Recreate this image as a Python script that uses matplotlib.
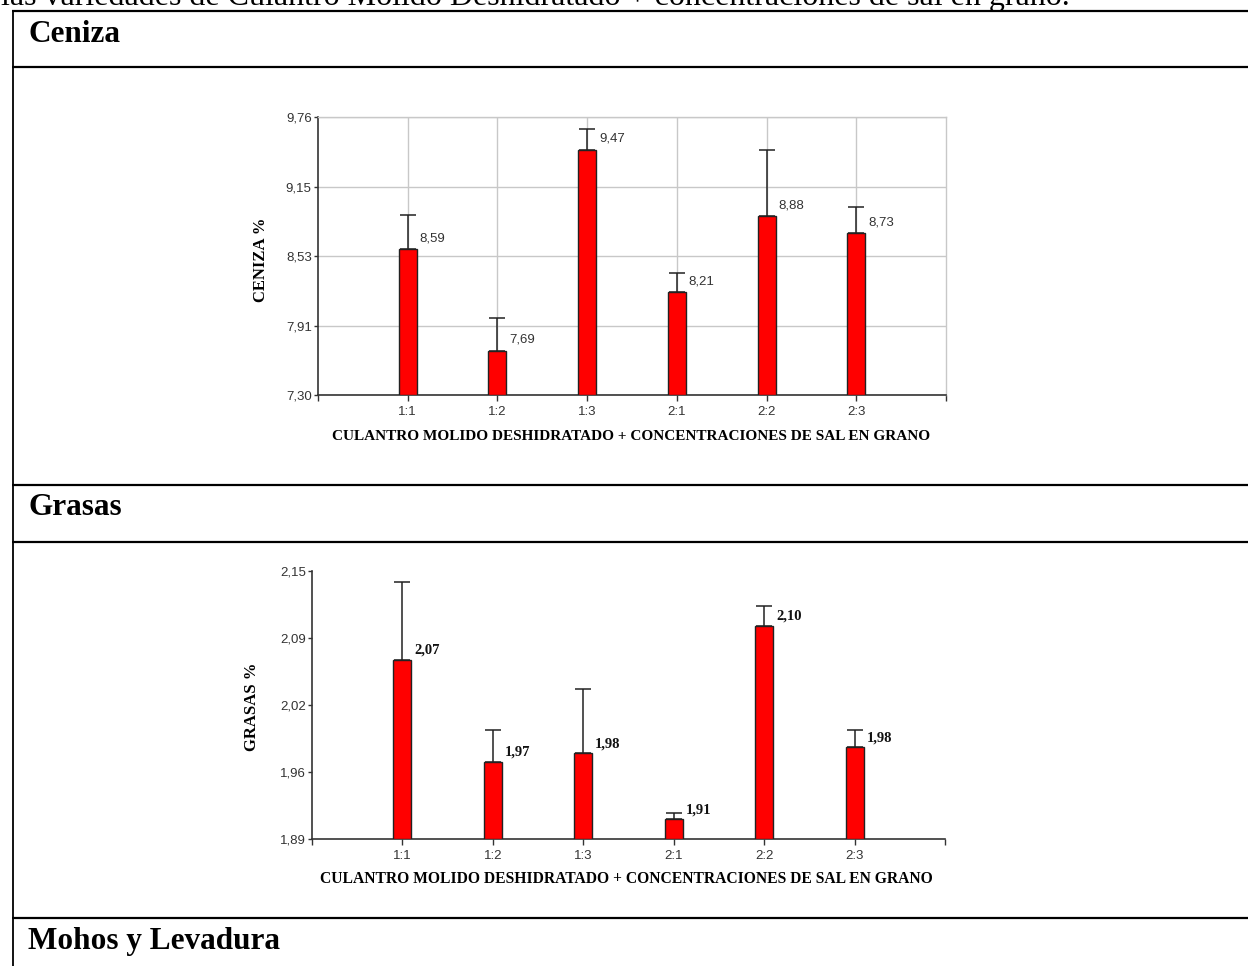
import matplotlib
matplotlib.use("Agg")
import matplotlib.pyplot as plt
import numpy as np

W, H = 1248, 966
DPI = 100

categories = ["1:1", "1:2", "1:3", "2:1", "2:2", "2:3"]

# Ceniza
ceniza_vals = [8.59, 7.69, 9.47, 8.21, 8.88, 8.73]
ceniza_err = [0.30, 0.29, 0.18, 0.17, 0.59, 0.23]
ceniza_ticklabels = ["7,30", "7,91", "8,53", "9,15", "9,76"]
ceniza_lim = (7.30, 9.76)

# Grasas
grasas_vals = [2.064, 1.965, 1.973, 1.909, 2.097, 1.979]
grasas_err = [0.075, 0.031, 0.063, 0.006, 0.019, 0.017]
grasas_labels = ["2,07", "1,97", "1,98", "1,91", "2,10", "1,98"]
grasas_ticklabels = ["1,89", "1,96", "2,02", "2,09", "2,15"]
grasas_lim = (1.89, 2.15)

xlabel = "CULANTRO MOLIDO DESHIDRATADO + CONCENTRACIONES DE SAL EN GRANO"
top_text = "las variedades de Culantro Molido Deshidratado + concentraciones de sal en grano."
headers = ["Ceniza", "Grasas", "Mohos y Levadura"]

SANS = "Liberation Sans"
SERIF = "Liberation Serif"

fig = plt.figure(figsize=(W / DPI, H / DPI), dpi=DPI)
fig.patch.set_facecolor("white")

# background / table layout axes in pixel coordinates
bg = fig.add_axes([0, 0, 1, 1])
bg.set_xlim(0, W)
bg.set_ylim(H, 0)
bg.axis("off")
for yy in [11, 67, 485, 542, 918]:
    bg.plot([12, W], [yy, yy], color="black", lw=1.6, solid_capstyle="butt")
bg.plot([13, 13], [10, H], color="black", lw=1.3, solid_capstyle="butt")

bg.text(1, 5, top_text, family=SERIF, fontsize=23, ha="left", va="baseline")
for txt, base in zip(headers, [42, 515, 949]):
    bg.text(28, base, txt, family=SERIF, fontsize=22.5, fontweight="bold",
            ha="left", va="baseline")


def px_axes(left, right, top, bottom):
    return fig.add_axes([left / W, 1 - bottom / H, (right - left) / W, (bottom - top) / H])


def style_common(ax, ticklabels, lim):
    ax.set_xlim(0, 7)
    ax.set_ylim(*lim)
    ax.set_xticks(np.arange(1, 7))
    ax.set_xticklabels(categories, family=SANS, fontsize=9.5, color="#333333")
    ax.set_xticks([0, 7], minor=True)
    yt = np.linspace(lim[0], lim[1], 5)
    ax.set_yticks(yt)
    ax.set_yticklabels(ticklabels, family=SANS, fontsize=9.5, color="#333333")
    ax.tick_params(axis="x", which="both", direction="out", length=4, width=1,
                   color="#333333", pad=4)
    ax.tick_params(axis="y", direction="out", length=3, width=1,
                   color="#333333", pad=1.5)
    for s in ["left", "bottom"]:
        ax.spines[s].set_color("#333333")
        ax.spines[s].set_linewidth(1.2)


x = np.arange(1, 7)

# ---- Ceniza chart
ax1 = px_axes(318, 946, 117, 395)
style_common(ax1, ceniza_ticklabels, ceniza_lim)
ax1.set_axisbelow(True)
ax1.grid(True, color="#c8c8c8", lw=1)
for s in ["top", "right"]:
    ax1.spines[s].set_color("#c8c8c8")
    ax1.spines[s].set_linewidth(1)
ax1.bar(x, np.array(ceniza_vals) - ceniza_lim[0], bottom=ceniza_lim[0], width=0.2,
        color="#ff0000", edgecolor="#222222", linewidth=1, zorder=3)
ax1.errorbar(x, ceniza_vals, yerr=[np.zeros(6), ceniza_err], fmt="none",
             ecolor="#222222", elinewidth=1.1, capsize=6, capthick=1.1, zorder=4)
for xi, v in zip(x, ceniza_vals):
    ax1.annotate(f"{v:.2f}".replace(".", ","), xy=(xi + 0.1, v), xytext=(2, 8),
                 textcoords="offset points", ha="left", va="center",
                 family=SANS, fontsize=9.5, color="#333333", zorder=5)

fig.text(261 / W, 1 - 260 / H, "CENIZA %", family=SERIF, fontweight="bold",
         fontsize=12, rotation=90, ha="center", va="center")
fig.text(631 / W, 1 - 436 / H, xlabel, family=SERIF, fontweight="bold",
         fontsize=11, ha="center", va="center")

# ---- Grasas chart
ax2 = px_axes(312, 945, 571, 839)
style_common(ax2, grasas_ticklabels, grasas_lim)
ax2.spines["top"].set_visible(False)
ax2.spines["right"].set_visible(False)
ax2.bar(x, np.array(grasas_vals) - grasas_lim[0], bottom=grasas_lim[0], width=0.2,
        color="#ff0000", edgecolor="#222222", linewidth=1, zorder=3)
ax2.errorbar(x, grasas_vals, yerr=[np.zeros(6), grasas_err], fmt="none",
             ecolor="#222222", elinewidth=1.1, capsize=6, capthick=1.1, zorder=4)
for xi, v, lab in zip(x, grasas_vals, grasas_labels):
    ax2.annotate(lab, xy=(xi + 0.1, v), xytext=(2, 7),
                 textcoords="offset points", ha="left", va="center",
                 family=SERIF, fontweight="bold", fontsize=10.5, color="#111111", zorder=5)

fig.text(252 / W, 1 - 707 / H, "GRASAS %", family=SERIF, fontweight="bold",
         fontsize=12, rotation=90, ha="center", va="center")
fig.text(626 / W, 1 - 879 / H, xlabel, family=SERIF, fontweight="bold",
         fontsize=11.25, ha="center", va="center")

fig.savefig("out.png", dpi=DPI, facecolor="white")
